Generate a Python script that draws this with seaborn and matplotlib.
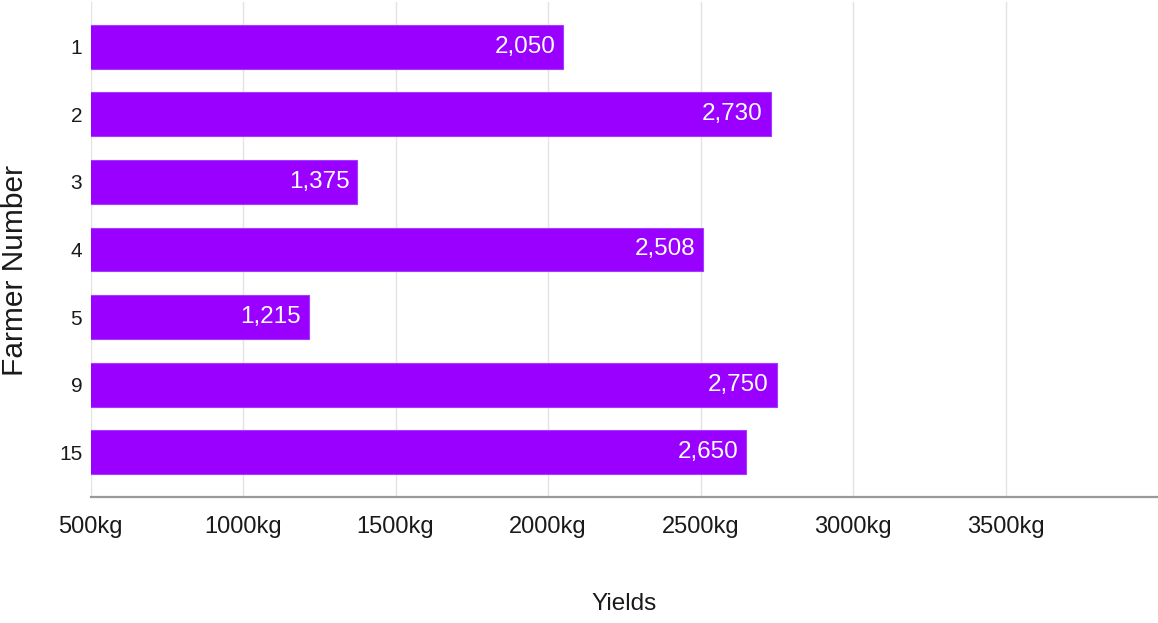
import matplotlib
matplotlib.use("Agg")
import matplotlib.pyplot as plt
import seaborn as sns
import pandas as pd

farmers = ["1", "2", "3", "4", "5", "9", "15"]
yields = [2050, 2730, 1375, 2508, 1215, 2750, 2650]
x_ticks = [500, 1000, 1500, 2000, 2500, 3000, 3500]
x_tick_labels = ["500kg", "1000kg", "1500kg", "2000kg", "2500kg", "3000kg", "3500kg"]

sns.set_theme(style="white")
plt.rcParams["font.family"] = ["Liberation Sans", "DejaVu Sans"]

df = pd.DataFrame({"Farmer": farmers, "Yield": yields})

fig = plt.figure(figsize=(11.58, 6.23), dpi=100)
ax = fig.add_axes([90.5 / 1158, 1 - 497 / 623, 1 - 90.5 / 1158, (497 - 2) / 623])

sns.barplot(data=df, x="Yield", y="Farmer", order=farmers, orient="h",
            color="#9900ff", saturation=1, width=0.65, ax=ax, zorder=3,
            edgecolor="#a23cff", linewidth=0.8)

ax.set_xlim(500, 4000)
ax.set_ylim(6.663, -0.663)
ax.set_xticks(x_ticks)
ax.set_xticklabels(x_tick_labels)
ax.xaxis.grid(True, color="#e3e3e3", linewidth=1, zorder=0)
ax.yaxis.grid(False)
ax.set_axisbelow(True)

for s in ["top", "right", "left"]:
    ax.spines[s].set_visible(False)
ax.spines["bottom"].set_color("#999999")
ax.spines["bottom"].set_linewidth(1.6)

ax.tick_params(axis="x", length=0, pad=14, labelsize=17, labelcolor="#1a1a1a")
ax.tick_params(axis="y", length=0, pad=6, labelsize=15, labelcolor="#1a1a1a")

for i, v in enumerate(yields):
    ax.annotate(f"{v:,}", xy=(v, i), xytext=(-8, 0), textcoords="offset pixels",
                ha="right", va="center", color="white", fontsize=17.5, zorder=5)

ax.set_xlabel("Yields", fontsize=17.5, color="#1a1a1a")
ax.xaxis.set_label_coords(0.5, -(604 - 497) / 495, transform=ax.transAxes)
ax.xaxis.label.set_va("center")
ax.set_ylabel("Farmer Number", fontsize=21.5, color="#1a1a1a")
ax.yaxis.set_label_coords(-(90.5 - 15) / (1158 - 90.5), 1 - (270 - 2) / 495)
ax.yaxis.label.set_va("center")

fig.savefig("out.png", dpi=100)
